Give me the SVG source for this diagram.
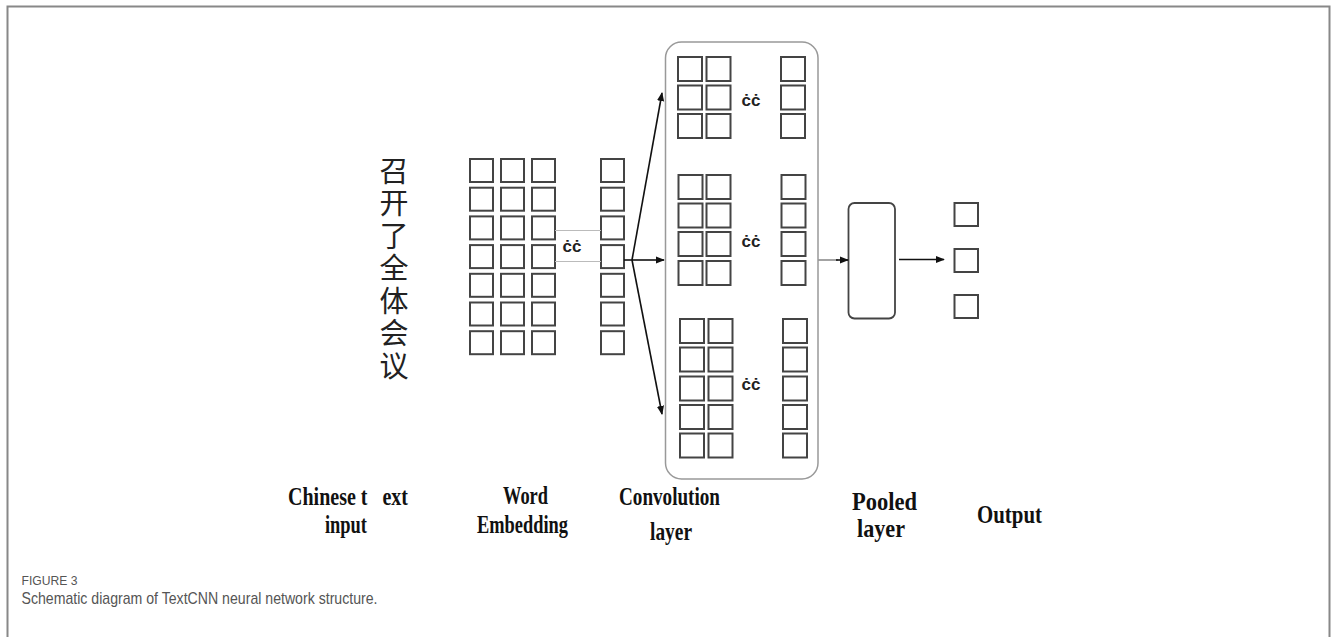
<svg xmlns="http://www.w3.org/2000/svg" width="1331" height="637" viewBox="0 0 1331 637">
<defs>
<style>
.bx{fill:#fff;stroke:#444;stroke-width:2}
.lbl{font-family:"Liberation Serif","Times New Roman",serif;font-weight:bold;font-size:25px;fill:#111}
.cc{font-family:"Liberation Sans",Arial,sans-serif;font-weight:bold;font-size:17px;fill:#222}
.zh{font-family:"Noto Sans CJK SC","Noto Sans",sans-serif;font-size:29px;fill:#222;text-anchor:start}
.ar{stroke:#111;stroke-width:1.6;fill:none}
.cap{font-family:"Liberation Sans",Arial,sans-serif;fill:#555}
</style>
<marker id="ah" viewBox="0 0 10 10" refX="9" refY="5" markerWidth="9" markerHeight="9" markerUnits="userSpaceOnUse" orient="auto">
<path d="M0,1 L10,5 L0,9 Z" fill="#111"/>
</marker>
</defs>
<rect x="0" y="0" width="1331" height="637" fill="#fff"/>
<path d="M7.5,637 V6.5 H1329.5 V637" fill="none" stroke="#888" stroke-width="2"/>

<g id="chinese-input">
<text class="zh" x="394" y="156" writing-mode="tb" letter-spacing="3.5">召开了全体会议</text>
</g>

<g id="word-embedding">
<g class="bx">
<rect x="470" y="159" width="23" height="23"/><rect x="501" y="159" width="23" height="23"/><rect x="532" y="159" width="23" height="23"/><rect x="601" y="159" width="23" height="23"/>
<rect x="470" y="187.7" width="23" height="23"/><rect x="501" y="187.7" width="23" height="23"/><rect x="532" y="187.7" width="23" height="23"/><rect x="601" y="187.7" width="23" height="23"/>
<rect x="470" y="216.4" width="23" height="23"/><rect x="501" y="216.4" width="23" height="23"/><rect x="532" y="216.4" width="23" height="23"/><rect x="601" y="216.4" width="23" height="23"/>
<rect x="470" y="245.1" width="23" height="23"/><rect x="501" y="245.1" width="23" height="23"/><rect x="532" y="245.1" width="23" height="23"/><rect x="601" y="245.1" width="23" height="23"/>
<rect x="470" y="273.8" width="23" height="23"/><rect x="501" y="273.8" width="23" height="23"/><rect x="532" y="273.8" width="23" height="23"/><rect x="601" y="273.8" width="23" height="23"/>
<rect x="470" y="302.5" width="23" height="23"/><rect x="501" y="302.5" width="23" height="23"/><rect x="532" y="302.5" width="23" height="23"/><rect x="601" y="302.5" width="23" height="23"/>
<rect x="470" y="331.2" width="23" height="23"/><rect x="501" y="331.2" width="23" height="23"/><rect x="532" y="331.2" width="23" height="23"/><rect x="601" y="331.2" width="23" height="23"/>
</g>
<path d="M555,230.5 H601 M555,261.5 H601" stroke="#bbb" stroke-width="1.2" fill="none"/>
<text class="cc" x="562.5" y="251.5">ċċ</text>
</g>

<g id="convolution-layer">
<rect x="665.5" y="42" width="152.5" height="437" rx="16" ry="16" fill="#fff" stroke="#999" stroke-width="1.5"/>
<g class="bx">
<rect x="678" y="57" width="24" height="24"/><rect x="706.5" y="57" width="24" height="24"/><rect x="781" y="57" width="24" height="24"/>
<rect x="678" y="85.5" width="24" height="24"/><rect x="706.5" y="85.5" width="24" height="24"/><rect x="781" y="85.5" width="24" height="24"/>
<rect x="678" y="114" width="24" height="24"/><rect x="706.5" y="114" width="24" height="24"/><rect x="781" y="114" width="24" height="24"/>

<rect x="678.5" y="175" width="24" height="24"/><rect x="706.5" y="175" width="24" height="24"/><rect x="781.5" y="175" width="24" height="24"/>
<rect x="678.5" y="203.5" width="24" height="24"/><rect x="706.5" y="203.5" width="24" height="24"/><rect x="781.5" y="203.5" width="24" height="24"/>
<rect x="678.5" y="232" width="24" height="24"/><rect x="706.5" y="232" width="24" height="24"/><rect x="781.5" y="232" width="24" height="24"/>
<rect x="678.5" y="261" width="24" height="24"/><rect x="706.5" y="261" width="24" height="24"/><rect x="781.5" y="261" width="24" height="24"/>

<rect x="680" y="319" width="24" height="24"/><rect x="708.5" y="319" width="24" height="24"/><rect x="783" y="319" width="24" height="24"/>
<rect x="680" y="347.5" width="24" height="24"/><rect x="708.5" y="347.5" width="24" height="24"/><rect x="783" y="347.5" width="24" height="24"/>
<rect x="680" y="376.5" width="24" height="24"/><rect x="708.5" y="376.5" width="24" height="24"/><rect x="783" y="376.5" width="24" height="24"/>
<rect x="680" y="405" width="24" height="24"/><rect x="708.5" y="405" width="24" height="24"/><rect x="783" y="405" width="24" height="24"/>
<rect x="680" y="433.5" width="24" height="24"/><rect x="708.5" y="433.5" width="24" height="24"/><rect x="783" y="433.5" width="24" height="24"/>
</g>
<text class="cc" x="741.5" y="106">ċċ</text>
<text class="cc" x="741.5" y="247">ċċ</text>
<text class="cc" x="741.5" y="390">ċċ</text>
</g>

<g id="pooled-layer">
<rect x="848.5" y="203" width="46.5" height="115.5" rx="6" ry="6" fill="#fff" stroke="#444" stroke-width="1.8"/>
</g>

<g id="output">
<rect class="bx" x="954.5" y="203" width="23.5" height="23"/>
<rect class="bx" x="954.5" y="249" width="23.5" height="23"/>
<rect class="bx" x="954.5" y="295" width="23.5" height="23"/>
</g>

<g id="connectors">
<line class="ar" x1="632" y1="260" x2="662" y2="93" marker-end="url(#ah)"/>
<line class="ar" x1="632" y1="260" x2="664" y2="260" marker-end="url(#ah)"/>
<line class="ar" x1="632" y1="260" x2="662" y2="414" marker-end="url(#ah)"/>
<line x1="624" y1="260" x2="632" y2="260" stroke="#111" stroke-width="1.6"/>
<line x1="818" y1="260" x2="838" y2="260" stroke="#999" stroke-width="1.8"/>
<line class="ar" x1="836" y1="260" x2="848" y2="260" marker-end="url(#ah)"/>
<line class="ar" x1="899" y1="259.5" x2="944" y2="259.5" marker-end="url(#ah)"/>
</g>

<g id="labels">
<text class="lbl" x="288" y="505" textLength="120" lengthAdjust="spacingAndGlyphs" xml:space="preserve">Chinese t   ext</text>
<text class="lbl" x="325" y="533" textLength="42" lengthAdjust="spacingAndGlyphs">input</text>
<text class="lbl" x="503" y="504" textLength="45" lengthAdjust="spacingAndGlyphs">Word</text>
<text class="lbl" x="477" y="533" textLength="91" lengthAdjust="spacingAndGlyphs">Embedding</text>
<text class="lbl" x="619" y="505" textLength="101" lengthAdjust="spacingAndGlyphs">Convolution</text>
<text class="lbl" x="650" y="540" textLength="42" lengthAdjust="spacingAndGlyphs">layer</text>
<text class="lbl" x="852" y="510" textLength="65" lengthAdjust="spacingAndGlyphs">Pooled</text>
<text class="lbl" x="857" y="537" textLength="48" lengthAdjust="spacingAndGlyphs">layer</text>
<text class="lbl" x="977" y="523" textLength="65" lengthAdjust="spacingAndGlyphs">Output</text>
</g>

<g id="caption">
<text class="cap" x="21.5" y="585" font-size="13" textLength="56" lengthAdjust="spacingAndGlyphs">FIGURE 3</text>
<text class="cap" x="21.5" y="603.5" font-size="17" textLength="356" lengthAdjust="spacingAndGlyphs">Schematic diagram of TextCNN neural network structure.</text>
</g>
</svg>
